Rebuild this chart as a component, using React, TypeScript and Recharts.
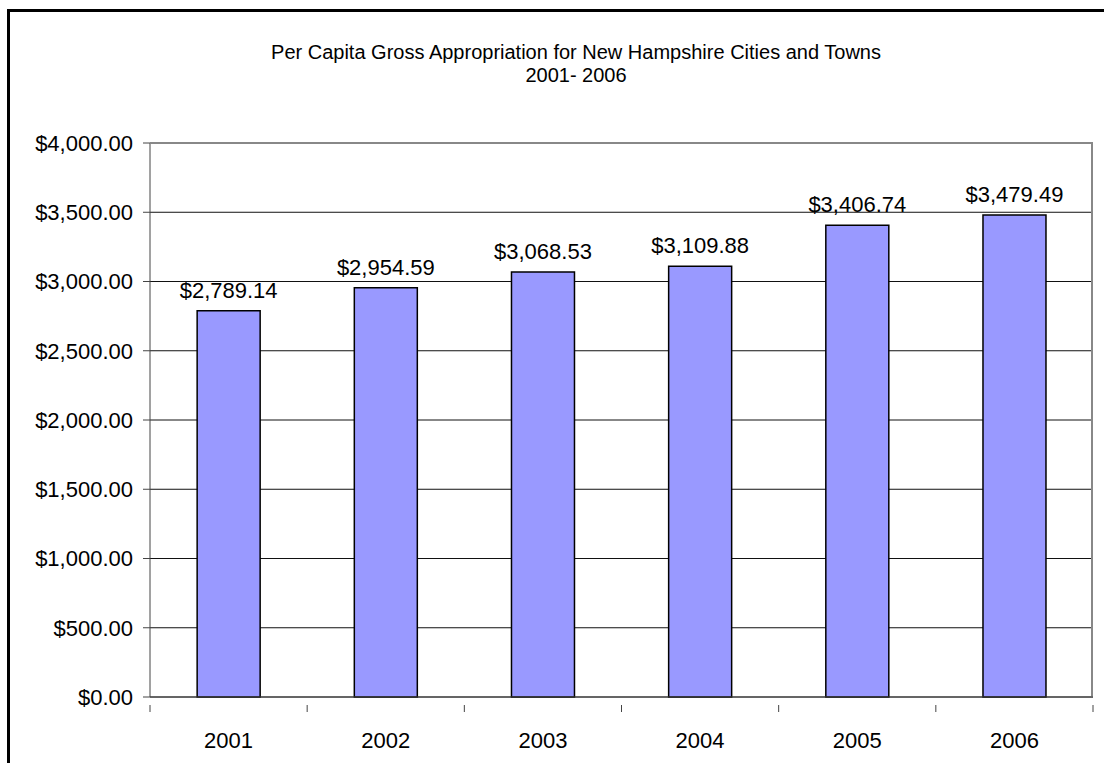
import React from 'react';
import { BarChart, Bar, XAxis, YAxis, CartesianGrid, LabelList } from 'recharts';

const years = ['2001', '2002', '2003', '2004', '2005', '2006'];
const perCapita = [2789.14, 2954.59, 3068.53, 3109.88, 3406.74, 3479.49];
const yTicks = [0, 500, 1000, 1500, 2000, 2500, 3000, 3500, 4000];

const W = 1104;
const H = 763;
const M = { top: 143, right: 11, bottom: 26, left: 0 };
const Y_AXIS_W = 150;
const X_AXIS_H = 40;
const PLOT_W = W - M.left - M.right - Y_AXIS_W;
const PLOT_H = H - M.top - M.bottom - X_AXIS_H;
const FONT = '"Liberation Sans", Arial, sans-serif';

const money = (v: number) =>
  '$' + v.toLocaleString('en-US', { minimumFractionDigits: 2, maximumFractionDigits: 2 });

const data = years.map((year, i) => ({ year, value: perCapita[i] }));

const XTick = (props: any) => {
  const { x, y, payload, index } = props;
  const half = PLOT_W / years.length / 2;
  return (
    <g>
      <line x1={x - half} x2={x - half} y1={y} y2={y + 7} stroke="#444" />
      {index === years.length - 1 && (
        <line x1={x + half} x2={x + half} y1={y} y2={y + 7} stroke="#444" />
      )}
      <text x={x} y={y + 35} dy="0.35em" textAnchor="middle" fill="#000" fontSize={22} fontFamily={FONT}>
        {payload.value}
      </text>
    </g>
  );
};

export default function App() {
  return (
    <div style={{ position: 'absolute', left: 0, top: 0, width: W, height: H, background: '#fff', overflow: 'hidden' }}>
      {/* outer frame, only top and left edges visible */}
      <div style={{ position: 'absolute', left: 7, top: 9, width: W + 20, height: H + 20, borderTop: '3px solid #000', borderLeft: '3px solid #000' }} />
      <div style={{ position: 'absolute', left: 24, top: 41, width: W, textAlign: 'center', fontFamily: FONT, fontSize: 20, lineHeight: '23px', color: '#000' }}>
        Per Capita Gross Appropriation for New Hampshire Cities and Towns
        <br />
        2001- 2006
      </div>
      <div style={{ position: 'absolute', left: 0, top: 0 }}>
        <BarChart width={W} height={H} data={data} margin={M} barCategoryGap="30%">
          <CartesianGrid horizontal vertical={false} stroke="#111" />
          <XAxis
            dataKey="year"
            height={X_AXIS_H}
            tickLine={false}
            axisLine={{ stroke: '#444' }}
            tick={<XTick />}
            interval={0}
          />
          <YAxis
            width={Y_AXIS_W}
            domain={[0, 4000]}
            ticks={yTicks}
            tickFormatter={money}
            tickSize={7}
            tickMargin={10}
            axisLine={{ stroke: '#444' }}
            tickLine={{ stroke: '#444' }}
            tick={{ fill: '#000', fontSize: 22, fontFamily: FONT }}
          />
          <Bar dataKey="value" fill="#9999FF" stroke="#000" strokeWidth={1.5} isAnimationActive={false}>
            <LabelList dataKey="value" position="top" offset={13} formatter={(v: any) => money(Number(v))} fill="#000" fontSize={22} fontFamily={FONT} />
          </Bar>
        </BarChart>
      </div>
      {/* plot area border: top and right in grey */}
      <div style={{ position: 'absolute', left: M.left + Y_AXIS_W, top: M.top - 1, width: PLOT_W, height: PLOT_H, borderTop: '2px solid #888', borderRight: '2px solid #888', boxSizing: 'border-box', pointerEvents: 'none' }} />
    </div>
  );
}
